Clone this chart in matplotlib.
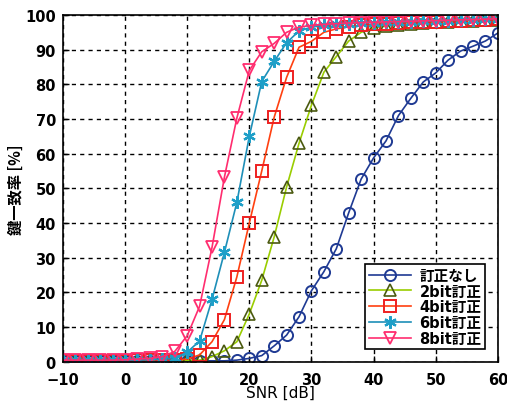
import numpy as np
import matplotlib
matplotlib.use('Agg')
import matplotlib.pyplot as plt

plt.rcParams['font.family'] = ['Noto Sans CJK JP', 'DejaVu Sans']

# SNR [dB], every 2 dB
snr = np.arange(-10, 61, 2)

# key agreement rate [%]
no_corr = [0.2, 0.2, 0.2, 0.2, 0.2, 0.2, 0.2, 0.2, 0.2, 0.2, 0.2, 0.3, 0.3, 0.3,
           0.5, 1.0, 1.8, 4.6, 7.7, 13.0, 20.5, 26.0, 32.6, 43.0, 52.7, 58.8,
           63.7, 71.0, 76.0, 80.7, 83.3, 87.0, 89.6, 91.0, 92.5, 94.8]
bit2 = [0.3, 0.3, 0.3, 0.3, 0.3, 0.3, 0.3, 0.3, 0.3, 0.3, 0.4, 0.5, 1.5, 3.2,
        5.8, 13.8, 23.5, 36.0, 50.4, 63.0, 74.0, 83.5, 88.0, 92.5, 95.0, 96.3,
        96.8, 97.2, 97.5, 97.7, 97.9, 98.1, 98.3, 98.4, 98.5, 98.6]
bit4 = [0.3, 0.3, 0.3, 0.3, 0.3, 0.3, 0.4, 0.4, 0.5, 0.5, 0.8, 2.0, 5.8, 12.2,
        24.5, 40.0, 55.0, 70.5, 82.0, 90.7, 92.4, 95.0, 96.0, 96.6, 97.0, 97.3,
        97.5, 97.7, 97.9, 98.0, 98.1, 98.3, 98.4, 98.5, 98.6, 98.7]
bit6 = [0.5, 0.5, 0.5, 0.5, 0.5, 0.5, 0.5, 0.6, 0.8, 1.0, 2.8, 6.0, 18.0, 31.6,
        46.0, 65.0, 80.8, 86.6, 92.0, 95.4, 96.5, 97.0, 97.3, 97.5, 97.7, 97.8,
        97.9, 98.0, 98.1, 98.2, 98.3, 98.4, 98.5, 98.6, 98.7, 98.8]
bit8 = [0.5, 0.5, 0.5, 0.5, 0.5, 0.6, 0.8, 1.0, 1.5, 3.0, 7.5, 16.0, 33.0, 53.3,
        70.3, 84.0, 89.4, 91.8, 95.0, 96.5, 97.0, 97.3, 97.5, 97.7, 97.8, 97.9,
        98.0, 98.1, 98.2, 98.3, 98.4, 98.5, 98.6, 98.7, 98.8, 98.9]

labels = ['訂正なし', '2bit訂正', '4bit訂正', '6bit訂正', '8bit訂正']

fig = plt.figure(figsize=(5.07, 4.10), dpi=100)
ax = fig.add_axes([0.124, 0.115, 0.858, 0.846])

ax.plot(snr, no_corr, color='#1f3a93', marker='o', ms=8, mfc='none',
        mec='#1f3a93', mew=1.4, lw=1.2, label=labels[0])
ax.plot(snr, bit2, color='#9acd00', marker='^', ms=8, mfc='none',
        mec='#4b5a10', mew=1.2, lw=1.2, label=labels[1])
ax.plot(snr, bit4, color='#ff4010', marker='s', ms=8, mfc='none',
        mec='#ee2020', mew=1.4, lw=1.2, label=labels[2])
ax.plot(snr, bit6, color='#1e8fb8', marker=(6, 2, 0), ms=9,
        mec='#1e9fc8', mew=1.6, lw=1.2, label=labels[3])
ax.plot(snr, bit8, color='#ff2d6f', marker='v', ms=9, mfc='none',
        mec='#ff2d6f', mew=1.3, lw=1.2, label=labels[4])

ax.set_xlim(-10, 60)
ax.set_ylim(0, 100)
ax.set_xticks(range(-10, 61, 10))
ax.set_yticks(range(0, 101, 10))
ax.grid(True, color='black', linestyle=(0, (3, 3)), linewidth=1.0)
for lab in ax.get_xticklabels() + ax.get_yticklabels():
    lab.set_family('DejaVu Sans')
    lab.set_fontweight('bold')
    lab.set_fontsize(10.5)
ax.tick_params(direction='in', length=4, width=1)
ax.tick_params(axis='x', pad=7)
ax.tick_params(axis='y', pad=5)
for s in ax.spines.values():
    s.set_linewidth(1.2)

ax.set_xlabel('SNR [dB]', fontsize=11, labelpad=-1, family='DejaVu Sans')
ax.set_ylabel('鍵一致率 [%]', fontsize=11, fontweight='bold', labelpad=1)

leg = ax.legend(loc='lower right', bbox_to_anchor=(0.988, 0.015),
                fancybox=False, edgecolor='black', framealpha=1,
                prop={'size': 10.5, 'weight': 'bold',
                      'family': ['DejaVu Sans', 'Noto Sans CJK JP']},
                handlelength=2.9, borderpad=0.25, labelspacing=0.05,
                handletextpad=0.6)
leg.get_frame().set_linewidth(1.2)

fig.savefig('out.png', dpi=100)
